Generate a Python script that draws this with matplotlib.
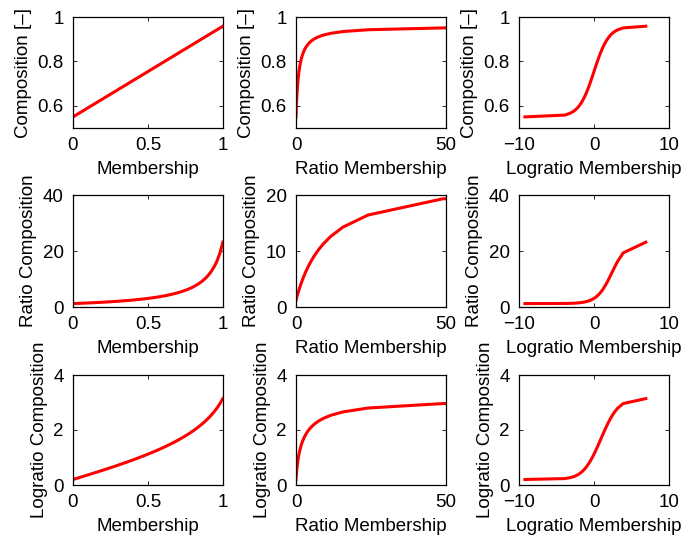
import matplotlib
matplotlib.use("Agg")
import matplotlib.pyplot as plt

plt.rcParams['font.family'] = ['Liberation Sans', 'DejaVu Sans']

# Sample points (membership grid and the resulting compositions)
membership = [0.0001, 0.02, 0.04, 0.06, 0.08, 0.10, 0.12, 0.14, 0.16, 0.18,
              0.20, 0.22, 0.24, 0.26, 0.28, 0.30, 0.32, 0.34, 0.36, 0.38,
              0.40, 0.42, 0.44, 0.46, 0.48, 0.50, 0.52, 0.54, 0.56, 0.58,
              0.60, 0.62, 0.64, 0.66, 0.68, 0.70, 0.72, 0.74, 0.76, 0.78,
              0.80, 0.82, 0.84, 0.86, 0.88, 0.90, 0.92, 0.94, 0.96, 0.98,
              0.999]

ratio_membership = [0.0001, 0.0204, 0.0417, 0.0638, 0.0870, 0.1111, 0.1364,
                    0.1628, 0.1905, 0.2195, 0.25, 0.2821, 0.3158, 0.3514,
                    0.3889, 0.4286, 0.4706, 0.5152, 0.5625, 0.6129, 0.6667,
                    0.7241, 0.7857, 0.8519, 0.9231, 1.0, 1.0833, 1.1739,
                    1.2727, 1.381, 1.5, 1.6316, 1.7778, 1.9412, 2.125, 2.3333,
                    2.5714, 2.8462, 3.1667, 3.5455, 4.0, 4.5556, 5.25, 6.1429,
                    7.3333, 9.0, 11.5, 15.667, 24.0, 49.0, 999.0]

logratio_membership = [-9.21, -3.892, -3.178, -2.752, -2.442, -2.197, -1.992,
                       -1.815, -1.658, -1.516, -1.386, -1.266, -1.153, -1.046,
                       -0.944, -0.847, -0.754, -0.663, -0.575, -0.490, -0.405,
                       -0.323, -0.241, -0.160, -0.080, 0.0, 0.080, 0.160,
                       0.241, 0.323, 0.405, 0.490, 0.575, 0.663, 0.754, 0.847,
                       0.944, 1.046, 1.153, 1.266, 1.386, 1.516, 1.658, 1.815,
                       1.992, 2.197, 2.442, 2.752, 3.178, 3.892, 6.907]

composition = [0.5500, 0.5582, 0.5664, 0.5745, 0.5827, 0.5909, 0.5991, 0.6073,
               0.6154, 0.6236, 0.6318, 0.6400, 0.6482, 0.6563, 0.6645, 0.6727,
               0.6809, 0.6891, 0.6972, 0.7054, 0.7136, 0.7218, 0.7300, 0.7381,
               0.7463, 0.7545, 0.7627, 0.7709, 0.7790, 0.7872, 0.7954, 0.8036,
               0.8118, 0.8199, 0.8281, 0.8363, 0.8445, 0.8527, 0.8608, 0.8690,
               0.8772, 0.8854, 0.8936, 0.9017, 0.9099, 0.9181, 0.9263, 0.9345,
               0.9426, 0.9508, 0.9586]

ratio_composition = [1.222, 1.263, 1.306, 1.350, 1.396, 1.444, 1.494, 1.546,
                     1.600, 1.657, 1.716, 1.778, 1.843, 1.910, 1.981, 2.055,
                     2.134, 2.216, 2.303, 2.394, 2.492, 2.595, 2.704, 2.818,
                     2.942, 3.073, 3.214, 3.365, 3.525, 3.699, 3.888, 4.092,
                     4.313, 4.553, 4.817, 5.109, 5.431, 5.789, 6.184, 6.634,
                     7.143, 7.726, 8.398, 9.173, 10.10, 11.21, 12.57, 14.27,
                     16.42, 19.33, 23.15]

logratio_composition = [0.2007, 0.2335, 0.2670, 0.3001, 0.3336, 0.3674, 0.4015,
                        0.4357, 0.4700, 0.5050, 0.5400, 0.5755, 0.6114, 0.6471,
                        0.6836, 0.7203, 0.7580, 0.7957, 0.8342, 0.8730, 0.9131,
                        0.9536, 0.9947, 1.0360, 1.0790, 1.1226, 1.1675, 1.2134,
                        1.2598, 1.3080, 1.3578, 1.4091, 1.4617, 1.5158, 1.5722,
                        1.6310, 1.6921, 1.7560, 1.8220, 1.8923, 1.9661, 2.0446,
                        2.1280, 2.2163, 2.3125, 2.4168, 2.5313, 2.6582, 2.7985,
                        2.9616, 3.1420]

x_series = [membership, ratio_membership, logratio_membership]
x_labels = ["Membership", "Ratio Membership", "Logratio Membership"]
x_limits = [(0, 1), (0, 50), (-10, 10)]
x_ticks = [[0, 0.5, 1], [0, 50], [-10, 0, 10]]
x_ticklabels = [["0", "0.5", "1"], ["0", "50"], ["\u221210", "0", "10"]]

y_series = [composition, ratio_composition, logratio_composition]
y_labels = ["Composition [\u2013]", "Ratio Composition", "Logratio Composition"]
y_limits = [[(0.5, 1), (0.5, 1), (0.5, 1)],
            [(0, 40), (0, 20), (0, 40)],
            [(0, 4), (0, 4), (0, 4)]]
y_ticks = [[[0.6, 0.8, 1]] * 3,
           [[0, 20, 40], [0, 10, 20], [0, 20, 40]],
           [[0, 2, 4]] * 3]
y_ticklabels = [[["0.6", "0.8", "1"]] * 3,
                [["0", "20", "40"], ["0", "10", "20"], ["0", "20", "40"]],
                [["0", "2", "4"]] * 3]

W, H = 682, 538
fig = plt.figure(figsize=(W / 100, H / 100), dpi=100)

col_left = [73, 296, 519]
col_width = 150
row_top = [17, 195, 375]
row_bottom = [128, 307, 485]

FS = 13.5

for r in range(3):
    for c in range(3):
        ax = fig.add_axes([col_left[c] / W, 1 - row_bottom[r] / H,
                           col_width / W, (row_bottom[r] - row_top[r]) / H])
        ax.plot(x_series[c], y_series[r], color=(1, 0, 0), lw=2.2,
                solid_joinstyle='round')
        ax.set_xlim(*x_limits[c])
        ax.set_ylim(*y_limits[r][c])
        ax.set_xticks(x_ticks[c])
        ax.set_xticklabels(x_ticklabels[c])
        ax.set_yticks(y_ticks[r][c])
        ax.set_yticklabels(y_ticklabels[r][c])
        ax.tick_params(direction='in', top=True, right=True, length=3,
                       width=0.6, labelsize=FS, colors='black')
        ax.tick_params(axis='x', pad=6.5)
        ax.tick_params(axis='y', pad=6.5)
        for s in ax.spines.values():
            s.set_linewidth(0.9)
        ax.set_xlabel(x_labels[c], fontsize=FS, labelpad=5)
        ax.set_ylabel(y_labels[r], fontsize=FS, labelpad=4)

fig.savefig("out.png", dpi=100)
